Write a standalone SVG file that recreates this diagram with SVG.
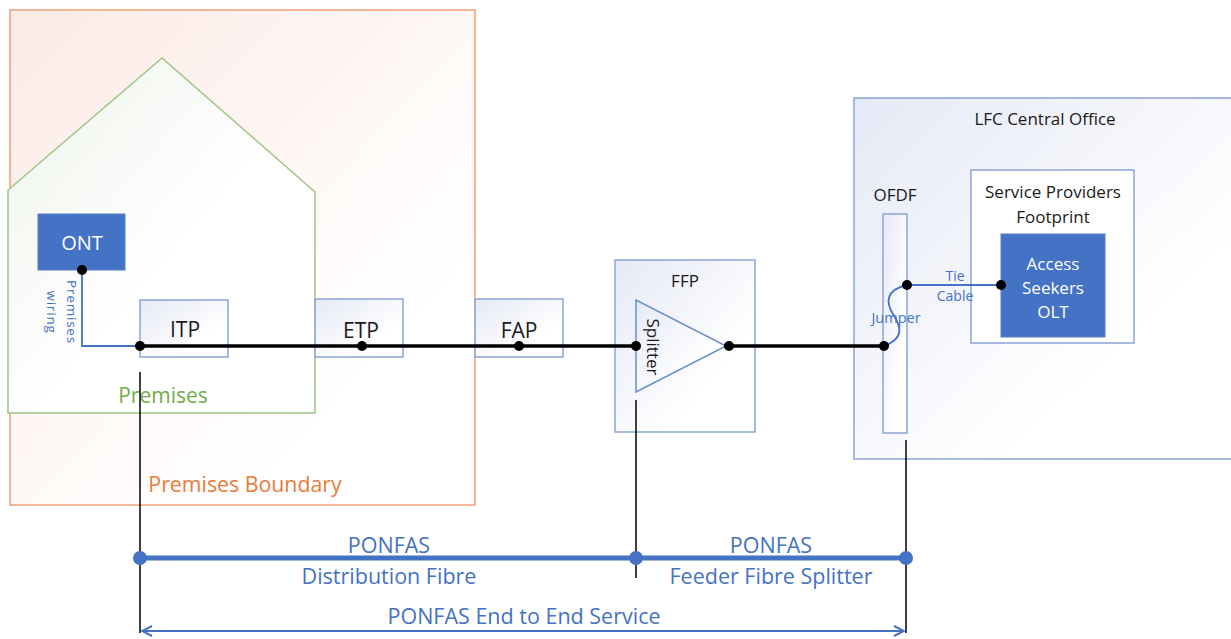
<svg xmlns="http://www.w3.org/2000/svg" width="1231" height="639" viewBox="0 0 1231 639">
<defs>
<linearGradient id="gBlue" x1="0" y1="0" x2="1" y2="1"><stop offset="0" stop-color="#E6E9F6"/><stop offset="0.7" stop-color="#FFFFFF"/></linearGradient>
<linearGradient id="gOrange" x1="0" y1="0" x2="1" y2="1"><stop offset="0" stop-color="#FCEAE5"/><stop offset="0.75" stop-color="#FFFFFF"/></linearGradient>
<linearGradient id="gGreen" x1="0" y1="0" x2="1" y2="1"><stop offset="0" stop-color="#EDF3EA"/><stop offset="0.55" stop-color="#FFFFFF"/></linearGradient>
<marker id="openArrow" viewBox="0 0 12 12" refX="11" refY="6" markerWidth="12" markerHeight="12" markerUnits="userSpaceOnUse" orient="auto-start-reverse">
<path d="M1,1 L11,6 L1,11" fill="none" stroke="#4472C4" stroke-width="2"/>
</marker>
</defs>
<style>
text{font-family:"Open Sans","Liberation Sans",sans-serif;text-anchor:middle}
.box{fill:url(#gBlue);stroke:#8AA5D8;stroke-width:1.5}
.solid{fill:#4472C4;stroke:#5B7FC7;stroke-width:1}
.lbl{font-size:21px;fill:#1a1a1a}
.sm{font-size:17px;fill:#1a1a1a}
.wt{fill:#FFFFFF}
.bl{fill:#4472C4}
.big{font-size:21.5px;fill:#4472C4}
.fib{stroke:#000;stroke-width:3.5;fill:none}
.thin{stroke:#000;stroke-width:1.5;fill:none}
.bw{stroke:#4472C4;stroke-width:1.8;fill:none}
.dot{fill:#000}
.bdot{fill:#4472C4}
</style>

<g id="premises-boundary">
<rect x="10" y="10" width="465" height="495" fill="url(#gOrange)" stroke="#EFA07A" stroke-width="1.5"/>
<text x="245" y="492" font-size="21.3" fill="#E97B3A">Premises Boundary</text>
</g>

<g id="premises">
<polygon points="8,190 162,58 315,192 315,413 8,413" fill="url(#gGreen)" stroke="#9DC584" stroke-width="1.5"/>
<text x="163" y="403" font-size="21" fill="#70AD47">Premises</text>
</g>

<g id="ont">
<rect class="solid" x="38" y="214" width="87" height="56"/>
<text class="wt" x="82" y="250" font-size="20">ONT</text>
</g>

<g id="itp">
<rect class="box" x="140" y="300" width="88" height="57"/>
<text class="lbl" x="185" y="337">ITP</text>
</g>
<g id="etp">
<rect class="box" x="315" y="299" width="88" height="58"/>
<text class="lbl" x="361" y="338">ETP</text>
</g>
<g id="fap">
<rect class="box" x="475" y="299" width="88" height="58"/>
<text class="lbl" x="519" y="338">FAP</text>
</g>

<g id="ffp">
<rect class="box" x="615" y="260" width="140" height="172"/>
<text class="sm" x="685" y="287">FFP</text>
</g>
<g id="splitter">
<polygon points="636,300 636,392 726,346" fill="url(#gBlue)" stroke="#6A8DCC" stroke-width="1.5"/>
<text transform="translate(647,347) rotate(90)" font-size="17" fill="#1a1a1a">Splitter</text>
</g>

<g id="lfc-central-office">
<rect class="box" x="854" y="98" width="380" height="361"/>
<text class="sm" x="1045" y="125" font-size="18">LFC Central Office</text>
</g>
<g id="ofdf">
<rect class="box" x="883" y="214" width="24" height="219"/>
<text class="sm" x="895" y="201">OFDF</text>
</g>
<g id="service-providers-footprint">
<rect x="971" y="170" width="163" height="173" fill="#FFFFFF" stroke="#8AA5D8" stroke-width="1.5"/>
<text class="sm" x="1053" y="198" font-size="18">Service Providers</text>
<text class="sm" x="1053" y="223" font-size="18">Footprint</text>
</g>
<g id="access-seekers-olt">
<rect class="solid" x="1001" y="234" width="104" height="103"/>
<text class="wt" x="1053" y="270" font-size="17">Access</text>
<text class="wt" x="1053" y="294" font-size="17">Seekers</text>
<text class="wt" x="1053" y="318" font-size="17">OLT</text>
</g>

<g id="connectors">
<path class="bw" d="M82,270 V346 H140"/>
<text transform="translate(67,312) rotate(90)" font-size="13.5" letter-spacing="0.8" class="bl">Premises</text>
<text transform="translate(47,312) rotate(90)" font-size="13.5" letter-spacing="0.8" class="bl">wiring</text>
<path class="fib" d="M140,346 H636"/>
<path class="fib" d="M729,346 H884"/>
<path class="bw" d="M907,285 H1001"/>
<text x="955" y="281" font-size="14" class="bl">Tie</text>
<text x="955" y="301" font-size="14" class="bl">Cable</text>
<path class="bw" d="M907,285 C885,290 886,303 893,314 S906,338 884,346"/>
<text x="896" y="323" font-size="14.5" class="bl">Jumper</text>
<circle class="dot" cx="82" cy="270" r="5"/>
<circle class="dot" cx="140" cy="346" r="5"/>
<circle class="dot" cx="362" cy="346" r="5"/>
<circle class="dot" cx="519" cy="346" r="5"/>
<circle class="dot" cx="636" cy="346" r="5"/>
<circle class="dot" cx="729" cy="346" r="5"/>
<circle class="dot" cx="884" cy="346" r="5"/>
<circle class="dot" cx="907" cy="285" r="5"/>
<circle class="dot" cx="1001" cy="285" r="5"/>
<path class="thin" d="M140,372 V633"/>
<path class="thin" d="M636,400 V578"/>
<path class="thin" d="M906,440 V633"/>
<path d="M140,558 H906" stroke="#4472C4" stroke-width="5"/>
<circle class="bdot" cx="140" cy="558" r="7"/>
<circle class="bdot" cx="636" cy="558" r="7"/>
<circle class="bdot" cx="906" cy="558" r="7"/>
<text x="389" y="553" class="big">PONFAS</text>
<text x="389" y="584" class="big">Distribution Fibre</text>
<text x="771" y="553" class="big">PONFAS</text>
<text x="771" y="584" class="big">Feeder Fibre Splitter</text>
<path d="M142,631 H904" stroke="#4472C4" stroke-width="2" fill="none" marker-start="url(#openArrow)" marker-end="url(#openArrow)"/>
<text x="524" y="624" class="big">PONFAS End to End Service</text>
</g>
</svg>
